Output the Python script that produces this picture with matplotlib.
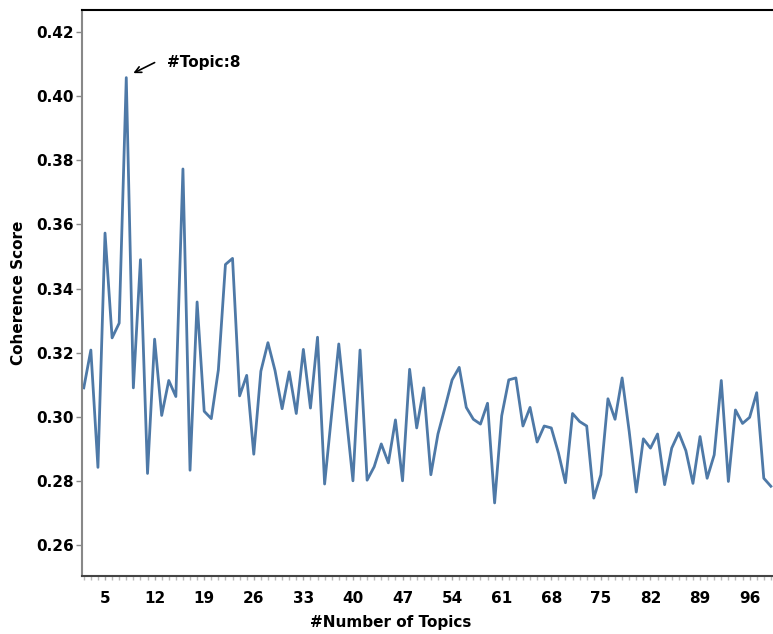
import matplotlib.pyplot as plt
import numpy as np
from matplotlib.ticker import MultipleLocator, FixedLocator

# number of topics 2..99
topics = np.arange(2, 100)
coherence = [
    0.3090, 0.3208, 0.2842, 0.3573, 0.3246, 0.3292, 0.4058, 0.3090, 0.3490, 0.2823,  # 2-11
    0.3242, 0.3004, 0.3113, 0.3063, 0.3773, 0.2833, 0.3358, 0.3017, 0.2994, 0.3146,  # 12-21
    0.3475, 0.3494, 0.3065, 0.3129, 0.2883, 0.3142, 0.3231, 0.3144, 0.3025, 0.3140,  # 22-31
    0.3010, 0.3210, 0.3027, 0.3248, 0.2790, 0.3010, 0.3227, 0.3013, 0.2800, 0.3208,  # 32-41
    0.2802, 0.2844, 0.2915, 0.2856, 0.2990, 0.2800, 0.3148, 0.2965, 0.3090, 0.2819,  # 42-51
    0.2946, 0.3029, 0.3115, 0.3154, 0.3029, 0.2992, 0.2977, 0.3042, 0.2731, 0.3003,  # 52-61
    0.3115, 0.3121, 0.2971, 0.3029, 0.2921, 0.2971, 0.2965, 0.2888, 0.2794, 0.3010,  # 62-71
    0.2985, 0.2971, 0.2746, 0.2819, 0.3056, 0.2992, 0.3121, 0.2954, 0.2765, 0.2931,  # 72-81
    0.2902, 0.2946, 0.2788, 0.2902, 0.2950, 0.2894, 0.2792, 0.2938, 0.2808, 0.2881,  # 82-91
    0.3113, 0.2798, 0.3021, 0.2979, 0.2998, 0.3075, 0.2808, 0.2783,                  # 92-99
]
xticks = [5, 12, 19, 26, 33, 40, 47, 54, 61, 68, 75, 82, 89, 96]
yticks = [0.26, 0.28, 0.30, 0.32, 0.34, 0.36, 0.38, 0.40, 0.42]
best_topic = 8

plt.rcParams['font.family'] = 'DejaVu Sans'
plt.rcParams['font.weight'] = 'bold'

W, H = 773, 634
fig = plt.figure(figsize=(W / 100, H / 100), dpi=100)
ax = fig.add_axes([82 / W, 1 - 576 / H, (773 - 82) / W, (576 - 10) / H])

ax.plot(topics, coherence, color='#4e79a7', linewidth=2.0)

ax.set_xlim(1.75, 99.3)
ax.set_ylim(0.2503, 0.4269)

ax.xaxis.set_major_locator(FixedLocator(xticks))
ax.xaxis.set_minor_locator(MultipleLocator(1))
ax.set_yticks(yticks)
ax.set_yticklabels([f'{v:.2f}' for v in yticks])

ax.tick_params(axis='x', which='major', length=3, width=1, color='#aaaaaa',
               labelsize=11, pad=8)
ax.tick_params(axis='x', which='minor', length=3, width=1, color='#bbbbbb')
ax.tick_params(axis='y', length=4, width=1, color='#888888', labelsize=11, pad=2)

ax.spines['right'].set_visible(False)
ax.spines['top'].set_color('black')
ax.spines['top'].set_linewidth(1.5)
ax.spines['left'].set_color('#888888')
ax.spines['left'].set_linewidth(1.5)
ax.spines['bottom'].set_color('#444444')
ax.spines['bottom'].set_linewidth(1.5)

ax.set_xlabel('#Number of Topics', fontsize=11, fontweight='bold')
ax.xaxis.set_label_coords((391 - 82) / (773 - 82), -(623 - 576) / (576 - 10))
ax.xaxis.label.set_va('center')
ax.set_ylabel('Coherence Score', fontsize=11, fontweight='bold')
ax.yaxis.set_label_coords(-(82 - 18) / (773 - 82), 0.5)
ax.yaxis.label.set_va('center')

best_val = coherence[list(topics).index(best_topic)]
ax.annotate(f'#Topic:{best_topic}', xy=(best_topic + 1.0, best_val + 0.0014),
            xytext=(best_topic + 5.8, best_val + 0.0048),
            fontsize=11, fontweight='bold', va='center', ha='left',
            arrowprops=dict(arrowstyle='->', color='black', lw=1.2,
                            relpos=(0, 0.9), shrinkA=8, shrinkB=0))

fig.savefig('out.png', dpi=100)
